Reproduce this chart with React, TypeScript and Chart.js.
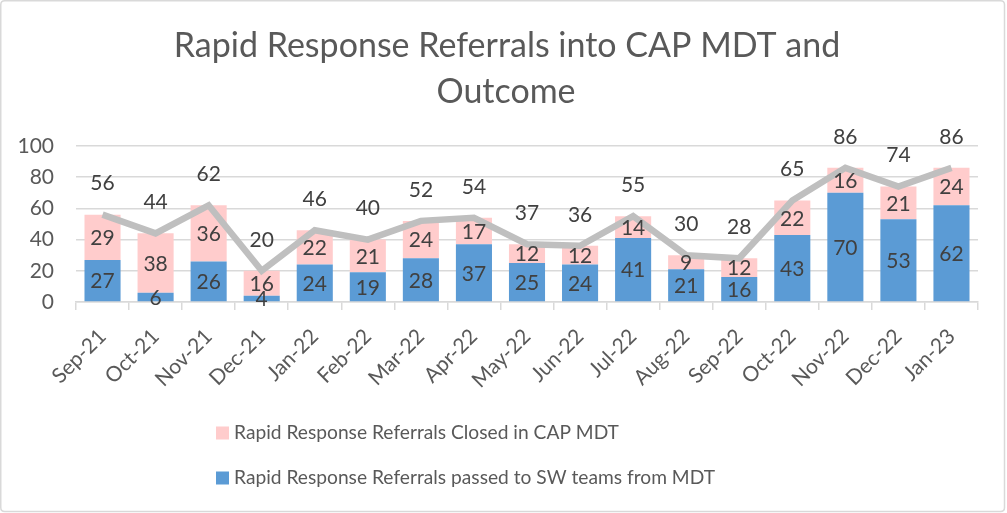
import React, { useEffect, useRef } from "react";
import { Chart, registerables } from "chart.js";

Chart.register(...registerables);

const months = ["Sep-21","Oct-21","Nov-21","Dec-21","Jan-22","Feb-22","Mar-22","Apr-22","May-22","Jun-22","Jul-22","Aug-22","Sep-22","Oct-22","Nov-22","Dec-22","Jan-23"];
const passedToSW = [27, 6, 26, 4, 24, 19, 28, 37, 25, 24, 41, 21, 16, 43, 70, 53, 62];
const closedInMDT = [29, 38, 36, 16, 22, 21, 24, 17, 12, 12, 14, 9, 12, 22, 16, 21, 24];
const totals = [56, 44, 62, 20, 46, 40, 52, 54, 37, 36, 55, 30, 28, 65, 86, 74, 86];
const yTicks = [0, 20, 40, 60, 80, 100];

const titleLines = ["Rapid Response Referrals into CAP MDT and", "Outcome"];
const legendLabels = ["Rapid Response Referrals Closed in CAP MDT", "Rapid Response Referrals passed to SW teams from MDT"];

const FONT = "Lato, 'Noto Sans', sans-serif";
const BLUE = "#5B9BD5";
const PINK = "#FFCCCC";
const GRAY_LINE = "#BFBFBF";
const TEXT = "#595959";
const LABEL = "#404040";
const GRID = "#D9D9D9";

const decorPlugin = {
  id: "decor",
  beforeDraw(chart: any) {
    const { ctx, width, height } = chart;
    ctx.save();
    ctx.fillStyle = "#ffffff";
    ctx.fillRect(0, 0, width, height);
    ctx.strokeStyle = GRID;
    ctx.lineWidth = 1.5;
    const r = 4;
    const x0 = 0.75, y0 = 0.75, x1 = 1004.5, y1 = 511.5;
    ctx.beginPath();
    ctx.moveTo(x0 + r, y0);
    ctx.lineTo(x1 - r, y0);
    ctx.quadraticCurveTo(x1, y0, x1, y0 + r);
    ctx.lineTo(x1, y1 - r);
    ctx.quadraticCurveTo(x1, y1, x1 - r, y1);
    ctx.lineTo(x0 + r, y1);
    ctx.quadraticCurveTo(x0, y1, x0, y1 - r);
    ctx.lineTo(x0, y0 + r);
    ctx.quadraticCurveTo(x0, y0, x0 + r, y0);
    ctx.stroke();
    ctx.restore();
  },
  afterDraw(chart: any) {
    const { ctx } = chart;
    ctx.save();
    // title
    ctx.fillStyle = TEXT;
    ctx.font = `34px ${FONT}`;
    ctx.textAlign = "center";
    ctx.textBaseline = "alphabetic";
    ctx.fillText(titleLines[0], 507, 57);
    ctx.fillText(titleLines[1], 506, 103);
    // legend
    const colors = [PINK, BLUE];
    const ys = [433, 478];
    ctx.font = `19.2px ${FONT}`;
    ctx.textAlign = "left";
    ctx.textBaseline = "middle";
    for (let i = 0; i < 2; i++) {
      ctx.fillStyle = colors[i];
      ctx.fillRect(216, ys[i] - 6.5, 13, 13);
      ctx.fillStyle = TEXT;
      ctx.fillText(legendLabels[i], 234, ys[i]);
    }
    ctx.restore();
  },
};

const labelsPlugin = {
  id: "valueLabels",
  afterDatasetsDraw(chart: any) {
    const { ctx } = chart;
    ctx.save();
    ctx.font = `21px ${FONT}`;
    ctx.fillStyle = LABEL;
    ctx.textAlign = "center";
    ctx.textBaseline = "middle";
    chart.data.datasets.forEach((ds: any, di: number) => {
      const meta = chart.getDatasetMeta(di);
      meta.data.forEach((el: any, i: number) => {
        const v = ds.data[i];
        if (ds.type === "line") {
          ctx.fillText(String(v), el.x, el.y - 31);
        } else {
          ctx.fillText(String(v), el.x, (el.y + el.base) / 2 + 1);
        }
      });
    });
    ctx.restore();
  },
};

export default function App() {
  const ref = useRef<HTMLCanvasElement | null>(null);
  useEffect(() => {
    if (!ref.current) return;
    const chart = new Chart(ref.current, {
      type: "bar",
      data: {
        labels: months,
        datasets: [
          {
            type: "line",
            label: "Total",
            data: totals,
            borderColor: GRAY_LINE,
            backgroundColor: GRAY_LINE,
            borderWidth: 6.5,
            pointRadius: 0,
            tension: 0,
            stack: "total",
            order: 0,
          } as any,
          {
            type: "bar",
            label: legendLabels[1],
            data: passedToSW,
            backgroundColor: BLUE,
            barPercentage: 0.68,
            categoryPercentage: 1,
            stack: "bars",
            order: 1,
          },
          {
            type: "bar",
            label: legendLabels[0],
            data: closedInMDT,
            backgroundColor: PINK,
            barPercentage: 0.68,
            categoryPercentage: 1,
            stack: "bars",
            order: 1,
          },
        ],
      },
      options: {
        animation: false,
        responsive: true,
        maintainAspectRatio: false,
        layout: { padding: { top: 146, left: 0, right: 29, bottom: 0 } },
        plugins: {
          legend: { display: false },
          title: { display: false },
          tooltip: { enabled: false },
        },
        scales: {
          x: {
            stacked: true,
            grid: {
              display: true,
              drawOnChartArea: false,
              drawTicks: true,
              tickLength: 8,
              color: GRID,
              lineWidth: 1.5,
              offset: true,
            },
            border: { display: true, color: GRID, width: 1.5 },
            ticks: {
              minRotation: 45,
              maxRotation: 45,
              autoSkip: false,
              padding: 14,
              color: TEXT,
              font: { family: FONT, size: 21 },
            },
            afterFit(scale: any) {
              scale.height = 211;
            },
          },
          y: {
            stacked: true,
            min: 0,
            max: 100,
            afterBuildTicks(scale: any) {
              scale.ticks = yTicks.map((v) => ({ value: v }));
            },
            grid: { color: GRID, lineWidth: 1.5, drawTicks: false },
            border: { display: false },
            ticks: {
              padding: 22,
              color: TEXT,
              font: { family: FONT, size: 21 },
            },
            afterFit(scale: any) {
              scale.width = 76;
            },
          },
        },
      },
      plugins: [decorPlugin, labelsPlugin],
    });
    return () => chart.destroy();
  }, []);
  return (
    <div style={{ position: "fixed", left: 0, top: 0, width: 1007, height: 513 }}>
      <canvas ref={ref} />
    </div>
  );
}
